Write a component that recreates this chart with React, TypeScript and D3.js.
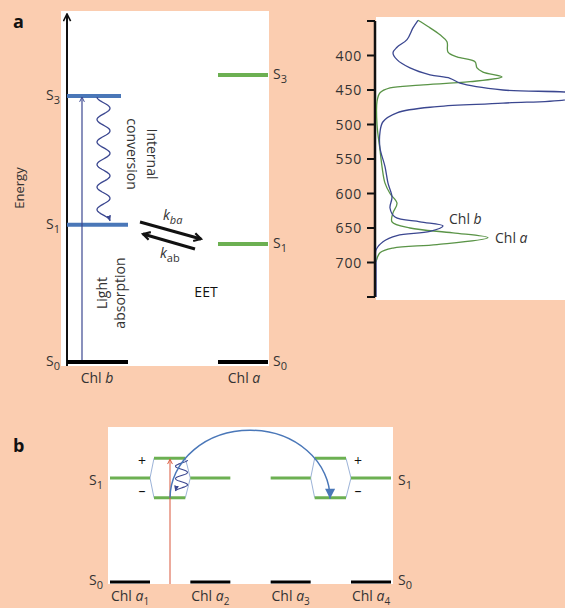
import React from "react";
import * as d3 from "d3";

const BG = "#fbcdb0";
const GREEN = "#6cb052";
const BLUE = "#4a77b8";
const NAVY = "#3b4790";
const SPEC_GREEN = "#5a9447";
const TXT = "#333";
const FONT = "'Open Sans', 'Noto Sans', sans-serif";

// panel a - energy levels (arbitrary units, S0 = 0)
const chlbStates = ["0", "1", "3"];
const chlbEnergy = [0, 39.3, 76.2];
const chlaStates = ["0", "1", "3"];
const chlaEnergy = [0, 33.8, 82.2];

// panel a - absorption spectra (wavelength nm, relative absorbance)
const chlbWl = [349, 360, 377, 388, 396, 406, 418, 428, 433, 440, 450, 456, 462, 469, 474, 483, 496, 511, 534, 561, 585, 605, 621, 634, 641, 647, 655, 661, 670, 682, 700, 750];
const chlbAbs = [0.21, 0.185, 0.155, 0.105, 0.085, 0.105, 0.17, 0.27, 0.37, 0.42, 0.635, 1.0, 0.98, 0.635, 0.305, 0.105, 0.035, 0.02, 0.02, 0.045, 0.06, 0.08, 0.07, 0.095, 0.22, 0.335, 0.27, 0.105, 0.035, 0.0, 0.0, 0.0];
const chlaWl = [349, 358, 370, 380, 395, 402, 409, 418, 424, 431, 438, 443, 447, 454, 467, 500, 537, 561, 585, 600, 614, 628, 641, 650, 657, 664, 674, 679, 686, 699];
const chlaAbs = [0.21, 0.26, 0.32, 0.355, 0.36, 0.405, 0.495, 0.505, 0.535, 0.63, 0.47, 0.22, 0.07, 0.02, 0.005, 0.005, 0.02, 0.03, 0.045, 0.07, 0.105, 0.085, 0.08, 0.17, 0.385, 0.56, 0.305, 0.085, 0.02, 0.0];
const wlTicks = [400, 450, 500, 550, 600, 650, 700];

// panel b - four Chl a molecules, S1 split into excitonic + / - states
const molecules = ["1", "2", "3", "4"];
const s1Energy = 1;
const splitPlus = 1.19;
const splitMinus = 0.81;
const pairs = [["1", "2"], ["3", "4"]];

function wave(x0: number, y0: number, y1: number, amp: number, n: number) {
  const pts: [number, number][] = d3.range(0, 1.0001, 1 / 120).map((t) => [
    x0 - amp * Math.cos(2 * Math.PI * n * t),
    y0 + t * (y1 - y0),
  ]);
  return d3.line()(pts) as string;
}

function S({ x, y, sub, anchor = "start" }: { x: number; y: number; sub: string; anchor?: string }) {
  return (
    <text x={x} y={y} textAnchor={anchor} fontSize={14} fill={TXT}>
      S<tspan fontSize={11} dy={4}>{sub}</tspan>
    </text>
  );
}

export default function App() {
  // panel a scales
  const eY = d3.scaleLinear().domain([0, 100]).range([362, 13]);
  const wlY = d3.scaleLinear().domain([350, 750]).range([21, 297]);
  const absX = d3.scaleLinear().domain([0, 1]).range([376, 576]);
  const specLine = d3
    .line<[number, number]>()
    .x((d) => absX(d[1]))
    .y((d) => wlY(d[0]))
    .curve(d3.curveCatmullRom.alpha(0.5));
  const chlbPath = specLine(chlbWl.map((w, i) => [w, chlbAbs[i]]));
  const chlaPath = specLine(chlaWl.map((w, i) => [w, chlaAbs[i]]));

  // panel b scales
  const molX = d3.scalePoint<string>().domain(molecules).range([130, 371]);
  const bY = d3.scaleLinear().domain([0, 1]).range([582, 478]);
  const half = 20;

  return (
    <svg width={565} height={608} style={{ position: "absolute", left: 0, top: 0, fontFamily: FONT }}>
      <defs>
        <marker id="chevBlack" viewBox="0 0 10 10" refX="9" refY="5" markerWidth="10" markerHeight="9" markerUnits="userSpaceOnUse" orient="auto">
          <path d="M1,1 L9,5 L1,9" fill="none" stroke="#111" strokeWidth={1.8} />
        </marker>
        <marker id="chevNavy" viewBox="0 0 10 10" refX="9" refY="5" markerWidth="6" markerHeight="7" markerUnits="userSpaceOnUse" orient="auto">
          <path d="M1,1 L9,5 L1,9" fill="none" stroke={NAVY} strokeWidth={1.6} />
        </marker>
        <marker id="chevK" viewBox="0 0 10 10" refX="8" refY="5" markerWidth="10" markerHeight="12" markerUnits="userSpaceOnUse" orient="auto">
          <path d="M1,1 L8,5 L1,9" fill="none" stroke="#111" strokeWidth={2.2} />
        </marker>
        <marker id="chevRed" viewBox="0 0 10 10" refX="9" refY="5" markerWidth="6" markerHeight="7" markerUnits="userSpaceOnUse" orient="auto">
          <path d="M1,1 L9,5 L1,9" fill="none" stroke="#d9573a" strokeWidth={1.6} />
        </marker>
        <marker id="triNavy" viewBox="0 0 10 10" refX="9" refY="5" markerWidth="6" markerHeight="6" markerUnits="userSpaceOnUse" orient="auto">
          <path d="M0,1 L10,5 L0,9 Z" fill={NAVY} />
        </marker>
        <marker id="triBlue" viewBox="0 0 10 10" refX="10" refY="5" markerWidth="15" markerHeight="10" markerUnits="userSpaceOnUse" orient="auto">
          <path d="M0,0 L10,5 L0,10 Z" fill={BLUE} />
        </marker>
        <clipPath id="specClip">
          <rect x={376} y={17} width={189} height={283} />
        </clipPath>
      </defs>

      <rect x={0} y={0} width={565} height={608} fill={BG} />

      {/* ---------- panel a: Jablonski diagram ---------- */}
      <text x={13} y={28} fontSize={18} fontWeight="bold" fill="#111">a</text>
      <rect x={61} y={11} width={208} height={355} fill="#fff" />
      <line x1={67} x2={67} y1={366} y2={14} stroke="#111" strokeWidth={2} markerEnd="url(#chevBlack)" />
      <text transform="translate(24,188) rotate(-90)" textAnchor="middle" fontSize={13} fill={TXT}>Energy</text>

      {chlbEnergy.map((e, i) => (
        <g key={"b" + i}>
          <line
            x1={67}
            x2={chlbStates[i] === "3" ? 121 : 128}
            y1={eY(e)}
            y2={eY(e)}
            stroke={chlbStates[i] === "0" ? "#000" : BLUE}
            strokeWidth={4}
          />
          <S x={60} y={eY(e) + 4} sub={chlbStates[i]} anchor="end" />
        </g>
      ))}
      {chlaEnergy.map((e, i) => (
        <g key={"a" + i}>
          <line x1={218} x2={268} y1={eY(e)} y2={eY(e)} stroke={chlaStates[i] === "0" ? "#000" : GREEN} strokeWidth={4} />
          <S x={273} y={eY(e) + 4} sub={chlaStates[i]} />
        </g>
      ))}

      {/* light absorption S0 -> S3 */}
      <line x1={82} x2={82} y1={eY(0) - 2} y2={eY(chlbEnergy[2]) + 1} stroke={NAVY} strokeWidth={1.2} markerEnd="url(#chevNavy)" />
      <text transform="translate(107,293) rotate(-90)" textAnchor="middle" fontSize={14} fill={TXT}>
        <tspan x={0} dy={0}>Light</tspan>
        <tspan x={0} dy={18}>absorption</tspan>
      </text>

      {/* internal conversion S3 -> S1 */}
      <path d={wave(103.5, eY(chlbEnergy[2]) + 1, eY(chlbEnergy[1]) - 4, 6.5, 5.5)} fill="none" stroke={NAVY} strokeWidth={1.3} markerEnd="url(#triNavy)" />
      <text transform="translate(147,154) rotate(90)" textAnchor="middle" fontSize={14} fill={TXT}>
        <tspan x={0} dy={0}>Internal</tspan>
        <tspan x={0} dy={20}>conversion</tspan>
      </text>

      {/* EET arrows */}
      <line x1={140} y1={222} x2={201} y2={239} stroke="#111" strokeWidth={3} markerEnd="url(#chevK)" />
      <line x1={195} y1={249} x2={143} y2={234} stroke="#111" strokeWidth={3} markerEnd="url(#chevK)" />
      <text x={163} y={220} fontSize={14} fill={TXT}>
        <tspan fontStyle="italic">k</tspan>
        <tspan fontSize={11} dy={4} fontStyle="italic">ba</tspan>
      </text>
      <text x={160} y={258} fontSize={14} fill={TXT}>
        <tspan fontStyle="italic">k</tspan>
        <tspan fontSize={11} dy={4}>ab</tspan>
      </text>
      <text x={206} y={297} textAnchor="middle" fontSize={14} fill="#111">EET</text>

      <text x={97} y={383} textAnchor="middle" fontSize={14} fill={TXT}>
        Chl <tspan fontStyle="italic">b</tspan>
      </text>
      <text x={244} y={383} textAnchor="middle" fontSize={14} fill={TXT}>
        Chl <tspan fontStyle="italic">a</tspan>
      </text>

      {/* ---------- panel a: spectra ---------- */}
      <rect x={376} y={17} width={189} height={283} fill="#fff" />
      <line x1={375} x2={375} y1={wlY(350)} y2={wlY(750)} stroke="#111" strokeWidth={2.5} />
      {[350, ...wlTicks, 750].map((t) => (
        <line key={t} x1={367} x2={375} y1={wlY(t)} y2={wlY(t)} stroke="#111" strokeWidth={2} />
      ))}
      {wlTicks.map((t) => (
        <text key={t} x={362} y={wlY(t) + 5} textAnchor="end" fontSize={14} letterSpacing={0.8} fill={TXT}>{t}</text>
      ))}
      <g clipPath="url(#specClip)">
        <path d={chlaPath as string} fill="none" stroke={SPEC_GREEN} strokeWidth={1.3} />
        <path d={chlbPath as string} fill="none" stroke={NAVY} strokeWidth={1.3} />
      </g>
      <text x={449} y={224} fontSize={14} fill={TXT}>
        Chl <tspan fontStyle="italic">b</tspan>
      </text>
      <text x={495} y={243} fontSize={14} fill={TXT}>
        Chl <tspan fontStyle="italic">a</tspan>
      </text>

      {/* ---------- panel b: exciton coupling ---------- */}
      <text x={13} y={452} fontSize={18} fontWeight="bold" fill="#111">b</text>
      <rect x={108} y={427} width={285} height={157} fill="#fff" />

      {pairs.map(([m1, m2]) => {
        const xl = (molX(m1) as number) + half;
        const xr = (molX(m2) as number) - half;
        const xs0 = xl + 4;
        const xs1 = xr - 5;
        return (
          <g key={m1}>
            <path
              d={`M${xl},${bY(s1Energy)} L${xs0},${bY(splitPlus)} M${xl},${bY(s1Energy)} L${xs0},${bY(splitMinus)} M${xs1},${bY(splitPlus)} L${xr},${bY(s1Energy)} M${xs1},${bY(splitMinus)} L${xr},${bY(s1Energy)}`}
              fill="none"
              stroke="#9cb3d8"
              strokeWidth={1}
            />
            <line x1={xs0} x2={xs1} y1={bY(splitPlus)} y2={bY(splitPlus)} stroke={GREEN} strokeWidth={3} />
            <line x1={xs0} x2={xs1} y1={bY(splitMinus)} y2={bY(splitMinus)} stroke={GREEN} strokeWidth={3} />
          </g>
        );
      })}
      {molecules.map((m) => (
        <g key={m}>
          <line x1={(molX(m) as number) - half} x2={(molX(m) as number) + half} y1={bY(s1Energy)} y2={bY(s1Energy)} stroke={GREEN} strokeWidth={3} />
          <line x1={(molX(m) as number) - half} x2={(molX(m) as number) + half} y1={bY(0)} y2={bY(0)} stroke="#000" strokeWidth={3} />
          <text x={molX(m)} y={601} textAnchor="middle" fontSize={14} fill={TXT}>
            Chl <tspan fontStyle="italic">a</tspan>
            <tspan fontSize={10} dy={4}>{m}</tspan>
          </text>
        </g>
      ))}
      <text x={142} y={466} textAnchor="middle" fontSize={14} fill="#111">+</text>
      <text x={142} y={496} textAnchor="middle" fontSize={14} fill="#111">–</text>
      <text x={358} y={466} textAnchor="middle" fontSize={14} fill="#111">+</text>
      <text x={358} y={496} textAnchor="middle" fontSize={14} fill="#111">–</text>

      <S x={103} y={485} sub="1" anchor="end" />
      <S x={103} y={585} sub="0" anchor="end" />
      <S x={398} y={485} sub="1" />
      <S x={398} y={585} sub="0" />

      {/* excitation and relaxation */}
      <line x1={170} x2={170} y1={bY(0) + 2} y2={bY(splitPlus) + 1} stroke="#d9573a" strokeWidth={1} markerEnd="url(#chevRed)" />
      <path d={wave(181.5, 460, 491, -6, 2.5)} fill="none" stroke={NAVY} strokeWidth={1.1} markerEnd="url(#triNavy)" />
      <path d={`M170,${bY(splitMinus)} A80,68 0 0 1 330,${bY(splitMinus) + 1}`} fill="none" stroke={BLUE} strokeWidth={1.5} markerEnd="url(#triBlue)" />
    </svg>
  );
}
